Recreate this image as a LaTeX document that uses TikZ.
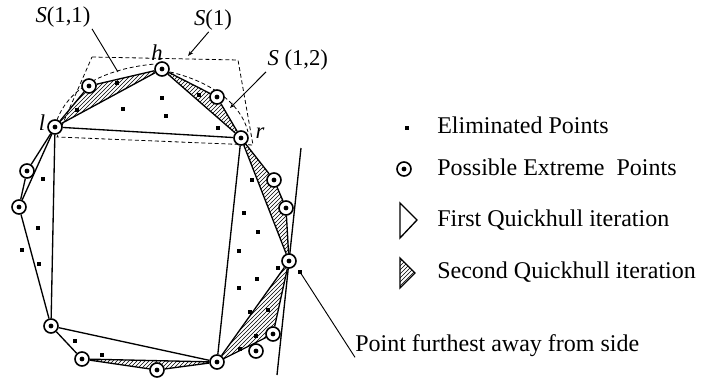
\documentclass[tikz,border=0pt]{standalone}
\usepackage{fontspec}
\setmainfont{Liberation Serif}
\usetikzlibrary{patterns,backgrounds,arrows.meta}

\begin{document}
\begin{tikzpicture}[x=0.75pt,y=-0.75pt,
	ext/.style={circle,draw,fill=white,line width=1.2pt,minimum size=10.5pt,inner sep=0pt,
		path picture={\fill[black] (path picture bounding box.center) circle (1.8pt);}},
	hull/.style={line width=1pt},
	hatch/.style={pattern=north east lines},
	region/.style={densely dashed,line width=0.6pt},
	lbl/.style={font=\fontsize{17}{19}\selectfont,inner sep=1pt},
	legend/.style={font=\fontsize{18}{20}\selectfont,anchor=west,inner sep=0pt},
	leader/.style={line width=0.7pt}]
	\useasboundingbox (0,0) rectangle (708,382);
	% possible extreme points
	\node[ext] (h) at (162,69) {};
	\node[ext] (l) at (55,127) {};
	\node[ext] (r) at (241,138) {};
	\node[ext] (p11) at (89,86) {};
	\node[ext] (p12) at (217,97) {};
	\node[ext] (pa) at (27,171) {};
	\node[ext] (pb) at (19,207) {};
	\node[ext] (pc) at (51,326) {};
	\node[ext] (pd) at (82,359) {};
	\node[ext] (pe) at (157,370) {};
	\node[ext] (pf) at (217,362) {};
	\node[ext] (pg) at (256,351) {};
	\node[ext] (ph) at (273,334) {};
	\node[ext] (far) at (289,261) {};
	\node[ext] (pi) at (286,208) {};
	\node[ext] (pj) at (274,180) {};
	% eliminated points
	\foreach \p in {(162,98),(123,109),(166,116),(199,95),(218,128),(117,83),(77,110),
		(43,179),(38,228),(22,250),(39,264),(75,341),(102,355),
		(252,180),(244,213),(258,232),(239,251),(257,279),(239,288),
		(250,312),(268,310),(256,336),(240,349),(278,268),(300,272)}
		\fill \p +(-1.8,-1.8) rectangle +(1.8,1.8);
	% second iteration areas and regions
	\begin{scope}[on background layer]
		\fill[hatch] (l.center) -- (p11.center) -- (h.center) -- cycle;
		\fill[hatch] (h.center) -- (p12.center) -- (r.center) -- cycle;
		\fill[hatch] (r.center) -- (pj.center) -- (pi.center) -- (far.center) -- cycle;
		\fill[hatch] (pf.center) -- (ph.center) -- (far.center) -- cycle;
		\fill[hatch] (pd.center) -- (pe.center) -- (pf.center) -- cycle;
		\draw[region] (92,57) -- (238,60) -- (253,145) -- (57,137) -- cycle;
		\draw[region] (57,120) .. controls (70,85) and (110,68) .. (155,64);
		\draw[region] (170,72) .. controls (205,80) and (240,100) .. (248,132);
		\coordinate (t1) at (301,148);
		\coordinate (t2) at (277,375);
		\draw[hull] (t1) -- (t2);
	\end{scope}
	% hull edges
	\draw[hull] (l) -- (r) (l) -- (pc) (r) -- (pf) (pc) -- (pf);
	\draw[hull] (l) -- (h) -- (r) (l) -- (pb) -- (pc) (r) -- (far) -- (pf);
	\draw[hull] (l) -- (p11) -- (h) -- (p12) -- (r);
	\draw[hull] (l) -- (pa) -- (pb);
	\draw[hull] (r) -- (pj) -- (pi) -- (far);
	\draw[hull] (pf) -- (ph) -- (far);
	\draw[hull] (pc) -- (pd) -- (pe) -- (pf) (pd) -- (pf);
	% labels
	\node[lbl] (s11lab) at (63,17) {\textit{S}(1,1)};
	\node[lbl] (s1lab) at (213,20) {\textit{S}(1)};
	\node[lbl,anchor=west] (s12lab) at (266,60) {\textit{S} (1,2)};
	\node[lbl] (hlab) at (157,53) {\textit{h}};
	\node[lbl] (llab) at (42,123) {\textit{l}};
	\node[lbl] (rlab) at (260,133) {\textit{r}};
	\coordinate (s11pt) at (118,72);
	\coordinate (s1pt) at (188,56);
	\coordinate (s12pt) at (230,108);
	\coordinate (farpt) at (300,272);
	\draw[leader] (s11lab.south east) -- (s11pt);
	\draw[leader,-{Stealth[length=4pt]}] (s1lab.250) -- (s1pt);
	\draw[leader,-{Stealth[length=4pt]}] (s12lab.south west) -- (s12pt);
	\node[legend] (fartext) at (355,346) {Point furthest away from side};
	\draw[leader] (fartext.south west) -- (farpt);
	% legend
	\fill (407,128) +(-1.8,-1.8) rectangle +(1.8,1.8);
	\node[legend] (leg1) at (437,125) {Eliminated Points};
	\node[ext] (legext) at (404,169) {};
	\node[legend] (leg2) at (437,167) {Possible Extreme\ \ Points};
	\draw[hull] (400,203) -- (417,220) -- (400,238) -- cycle;
	\node[legend] (leg3) at (437,220) {First Quickhull iteration};
	\draw[hull,hatch] (400,258) -- (415,273) -- (400,288) -- cycle;
	\node[legend] (leg4) at (437,272) {Second Quickhull iteration};
\end{tikzpicture}
\end{document}
